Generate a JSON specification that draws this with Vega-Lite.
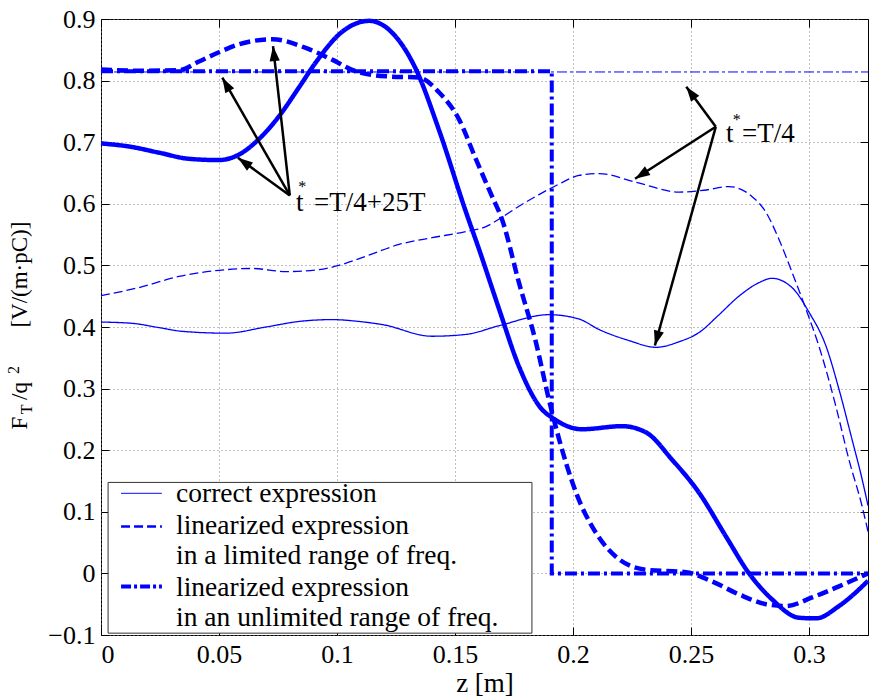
{
  "$schema": "https://vega.github.io/schema/vega-lite/v6.json",
  "width": 767,
  "height": 616,
  "autosize": {"type": "none"},
  "padding": {"left": 101, "top": 19, "right": 3, "bottom": 65},
  "background": "white",
  "config": {
    "view": {"stroke": "black", "strokeWidth": 1},
    "font": "Liberation Serif",
    "axis": {
      "labelFont": "Liberation Serif", "labelFontSize": 26, "labelColor": "black",
      "tickColor": "black", "tickSize": -8, "tickWidth": 1, "domain": false,
      "gridColor": "#808080", "gridDash": [1, 3], "gridWidth": 1, "gridOpacity": 1,
      "titleFont": "Liberation Serif", "titleFontSize": 27, "titleFontWeight": "normal", "titleColor": "black"
    }
  },
  "resolve": {"axis": {"x": "independent", "y": "independent"}},
  "datasets": {
    "curves": [
      {"s": "correct, T/4+25T", "z": 0, "v": 0.698},
      {"s": "correct, T/4+25T", "z": 0.0119, "v": 0.693},
      {"s": "correct, T/4+25T", "z": 0.0246, "v": 0.683},
      {"s": "correct, T/4+25T", "z": 0.0373, "v": 0.673},
      {"s": "correct, T/4+25T", "z": 0.05, "v": 0.671},
      {"s": "correct, T/4+25T", "z": 0.0585, "v": 0.68},
      {"s": "correct, T/4+25T", "z": 0.0669, "v": 0.705},
      {"s": "correct, T/4+25T", "z": 0.0754, "v": 0.742},
      {"s": "correct, T/4+25T", "z": 0.0839, "v": 0.789},
      {"s": "correct, T/4+25T", "z": 0.0911, "v": 0.83},
      {"s": "correct, T/4+25T", "z": 0.1021, "v": 0.879},
      {"s": "correct, T/4+25T", "z": 0.1136, "v": 0.897},
      {"s": "correct, T/4+25T", "z": 0.1233, "v": 0.878},
      {"s": "correct, T/4+25T", "z": 0.1335, "v": 0.818},
      {"s": "correct, T/4+25T", "z": 0.1432, "v": 0.72},
      {"s": "correct, T/4+25T", "z": 0.1547, "v": 0.586},
      {"s": "correct, T/4+25T", "z": 0.1602, "v": 0.526},
      {"s": "correct, T/4+25T", "z": 0.1686, "v": 0.43},
      {"s": "correct, T/4+25T", "z": 0.1771, "v": 0.336},
      {"s": "correct, T/4+25T", "z": 0.1869, "v": 0.266},
      {"s": "correct, T/4+25T", "z": 0.1911, "v": 0.253},
      {"s": "correct, T/4+25T", "z": 0.2038, "v": 0.234},
      {"s": "correct, T/4+25T", "z": 0.2208, "v": 0.239},
      {"s": "correct, T/4+25T", "z": 0.2309, "v": 0.229},
      {"s": "correct, T/4+25T", "z": 0.2419, "v": 0.185},
      {"s": "correct, T/4+25T", "z": 0.2534, "v": 0.131},
      {"s": "correct, T/4+25T", "z": 0.2648, "v": 0.06},
      {"s": "correct, T/4+25T", "z": 0.2746, "v": 0.0},
      {"s": "correct, T/4+25T", "z": 0.2843, "v": -0.042},
      {"s": "correct, T/4+25T", "z": 0.2958, "v": -0.072},
      {"s": "correct, T/4+25T", "z": 0.303, "v": -0.073},
      {"s": "correct, T/4+25T", "z": 0.3127, "v": -0.053},
      {"s": "correct, T/4+25T", "z": 0.3242, "v": -0.015},
      {"s": "correct, T/4+25T", "z": 0.325, "v": -0.012},
      {"s": "limited, T/4+25T", "z": 0, "v": 0.818},
      {"s": "limited, T/4+25T", "z": 0.016, "v": 0.816},
      {"s": "limited, T/4+25T", "z": 0.033, "v": 0.817},
      {"s": "limited, T/4+25T", "z": 0.0415, "v": 0.831},
      {"s": "limited, T/4+25T", "z": 0.05, "v": 0.846},
      {"s": "limited, T/4+25T", "z": 0.0585, "v": 0.859},
      {"s": "limited, T/4+25T", "z": 0.0725, "v": 0.867},
      {"s": "limited, T/4+25T", "z": 0.0881, "v": 0.851},
      {"s": "limited, T/4+25T", "z": 0.0979, "v": 0.834},
      {"s": "limited, T/4+25T", "z": 0.108, "v": 0.815},
      {"s": "limited, T/4+25T", "z": 0.1208, "v": 0.807},
      {"s": "limited, T/4+25T", "z": 0.1347, "v": 0.805},
      {"s": "limited, T/4+25T", "z": 0.1432, "v": 0.781},
      {"s": "limited, T/4+25T", "z": 0.1517, "v": 0.737},
      {"s": "limited, T/4+25T", "z": 0.1589, "v": 0.672},
      {"s": "limited, T/4+25T", "z": 0.1657, "v": 0.612},
      {"s": "limited, T/4+25T", "z": 0.1699, "v": 0.575},
      {"s": "limited, T/4+25T", "z": 0.1771, "v": 0.472},
      {"s": "limited, T/4+25T", "z": 0.1843, "v": 0.375},
      {"s": "limited, T/4+25T", "z": 0.1898, "v": 0.282},
      {"s": "limited, T/4+25T", "z": 0.1941, "v": 0.218},
      {"s": "limited, T/4+25T", "z": 0.2013, "v": 0.131},
      {"s": "limited, T/4+25T", "z": 0.2097, "v": 0.066},
      {"s": "limited, T/4+25T", "z": 0.2195, "v": 0.023},
      {"s": "limited, T/4+25T", "z": 0.2309, "v": 0.006},
      {"s": "limited, T/4+25T", "z": 0.2479, "v": 0.002},
      {"s": "limited, T/4+25T", "z": 0.2589, "v": -0.013},
      {"s": "limited, T/4+25T", "z": 0.2703, "v": -0.034},
      {"s": "limited, T/4+25T", "z": 0.2818, "v": -0.05},
      {"s": "limited, T/4+25T", "z": 0.2903, "v": -0.053},
      {"s": "limited, T/4+25T", "z": 0.3013, "v": -0.039},
      {"s": "limited, T/4+25T", "z": 0.3127, "v": -0.021},
      {"s": "limited, T/4+25T", "z": 0.325, "v": 0.0},
      {"s": "correct, T/4", "z": 0, "v": 0.408},
      {"s": "correct, T/4", "z": 0.0131, "v": 0.406},
      {"s": "correct, T/4", "z": 0.0246, "v": 0.399},
      {"s": "correct, T/4", "z": 0.0343, "v": 0.393},
      {"s": "correct, T/4", "z": 0.053, "v": 0.39},
      {"s": "correct, T/4", "z": 0.0699, "v": 0.4},
      {"s": "correct, T/4", "z": 0.0839, "v": 0.409},
      {"s": "correct, T/4", "z": 0.0979, "v": 0.412},
      {"s": "correct, T/4", "z": 0.1093, "v": 0.409},
      {"s": "correct, T/4", "z": 0.1191, "v": 0.404},
      {"s": "correct, T/4", "z": 0.1403, "v": 0.385},
      {"s": "correct, T/4", "z": 0.1547, "v": 0.388},
      {"s": "correct, T/4", "z": 0.1686, "v": 0.402},
      {"s": "correct, T/4", "z": 0.1898, "v": 0.42},
      {"s": "correct, T/4", "z": 0.2025, "v": 0.413},
      {"s": "correct, T/4", "z": 0.211, "v": 0.396},
      {"s": "correct, T/4", "z": 0.2237, "v": 0.378},
      {"s": "correct, T/4", "z": 0.2352, "v": 0.367},
      {"s": "correct, T/4", "z": 0.2449, "v": 0.376},
      {"s": "correct, T/4", "z": 0.2534, "v": 0.391},
      {"s": "correct, T/4", "z": 0.2619, "v": 0.42},
      {"s": "correct, T/4", "z": 0.2703, "v": 0.45},
      {"s": "correct, T/4", "z": 0.2788, "v": 0.472},
      {"s": "correct, T/4", "z": 0.2843, "v": 0.479},
      {"s": "correct, T/4", "z": 0.2928, "v": 0.464},
      {"s": "correct, T/4", "z": 0.3, "v": 0.424},
      {"s": "correct, T/4", "z": 0.3072, "v": 0.369},
      {"s": "correct, T/4", "z": 0.3127, "v": 0.299},
      {"s": "correct, T/4", "z": 0.3182, "v": 0.218},
      {"s": "correct, T/4", "z": 0.3225, "v": 0.153},
      {"s": "correct, T/4", "z": 0.325, "v": 0.11},
      {"s": "limited, T/4", "z": 0, "v": 0.451},
      {"s": "limited, T/4", "z": 0.0161, "v": 0.464},
      {"s": "limited, T/4", "z": 0.033, "v": 0.482},
      {"s": "limited, T/4", "z": 0.05, "v": 0.492},
      {"s": "limited, T/4", "z": 0.064, "v": 0.495},
      {"s": "limited, T/4", "z": 0.0784, "v": 0.49},
      {"s": "limited, T/4", "z": 0.0924, "v": 0.493},
      {"s": "limited, T/4", "z": 0.1008, "v": 0.5},
      {"s": "limited, T/4", "z": 0.1123, "v": 0.515},
      {"s": "limited, T/4", "z": 0.1263, "v": 0.534},
      {"s": "limited, T/4", "z": 0.1403, "v": 0.545},
      {"s": "limited, T/4", "z": 0.1547, "v": 0.555},
      {"s": "limited, T/4", "z": 0.1631, "v": 0.563},
      {"s": "limited, T/4", "z": 0.1686, "v": 0.575},
      {"s": "limited, T/4", "z": 0.1771, "v": 0.596},
      {"s": "limited, T/4", "z": 0.1856, "v": 0.615},
      {"s": "limited, T/4", "z": 0.1941, "v": 0.632},
      {"s": "limited, T/4", "z": 0.2025, "v": 0.646},
      {"s": "limited, T/4", "z": 0.211, "v": 0.649},
      {"s": "limited, T/4", "z": 0.2267, "v": 0.635},
      {"s": "limited, T/4", "z": 0.2449, "v": 0.619},
      {"s": "limited, T/4", "z": 0.2555, "v": 0.622},
      {"s": "limited, T/4", "z": 0.2661, "v": 0.628},
      {"s": "limited, T/4", "z": 0.2758, "v": 0.612},
      {"s": "limited, T/4", "z": 0.2818, "v": 0.586},
      {"s": "limited, T/4", "z": 0.2873, "v": 0.542},
      {"s": "limited, T/4", "z": 0.2928, "v": 0.489},
      {"s": "limited, T/4", "z": 0.2987, "v": 0.429},
      {"s": "limited, T/4", "z": 0.3042, "v": 0.369},
      {"s": "limited, T/4", "z": 0.3114, "v": 0.271},
      {"s": "limited, T/4", "z": 0.3169, "v": 0.185},
      {"s": "limited, T/4", "z": 0.3225, "v": 0.109},
      {"s": "limited, T/4", "z": 0.325, "v": 0.068}
    ],
    "steps": [
      {"s": "unlimited, T/4+25T", "z": 0, "v": 0.815},
      {"s": "unlimited, T/4+25T", "z": 0.191, "v": 0.815},
      {"s": "unlimited, T/4+25T", "z": 0.191, "v": 0.0},
      {"s": "unlimited, T/4+25T", "z": 0.325, "v": 0.0},
      {"s": "unlimited, T/4", "z": 0, "v": 0.814},
      {"s": "unlimited, T/4", "z": 0.325, "v": 0.814}
    ],
    "arrows": [
      {"x1": 0.08, "y1": 0.6136, "x2": 0.0514, "y2": 0.8047},
      {"x1": 0.08, "y1": 0.6136, "x2": 0.0729, "y2": 0.856},
      {"x1": 0.08, "y1": 0.6136, "x2": 0.058, "y2": 0.6748},
      {"x1": 0.2605, "y1": 0.725, "x2": 0.248, "y2": 0.79},
      {"x1": 0.2605, "y1": 0.725, "x2": 0.2263, "y2": 0.6407},
      {"x1": 0.2605, "y1": 0.725, "x2": 0.2347, "y2": 0.37}
    ],
    "labels": [
      {"k": "main", "z": 0.0826, "v": 0.5877, "t": "t"},
      {"k": "main", "z": 0.0903, "v": 0.5877, "t": "=T/4+25T"},
      {"k": "main", "z": 0.2648, "v": 0.6997, "t": "t"},
      {"k": "main", "z": 0.2716, "v": 0.6997, "t": "=T/4"},
      {"k": "star", "z": 0.0853, "v": 0.6185, "t": "*"},
      {"k": "star", "z": 0.2694, "v": 0.7275, "t": "*"},
      {"k": "legend", "z": 0.0318, "v": 0.1153, "t": "correct expression"},
      {"k": "legend", "z": 0.0318, "v": 0.0633, "t": "linearized expression"},
      {"k": "legend", "z": 0.0318, "v": 0.0146, "t": "in a limited range of freq."},
      {"k": "legend", "z": 0.0318, "v": -0.0373, "t": "linearized expression"},
      {"k": "legend", "z": 0.0318, "v": -0.086, "t": "in an unlimited range of freq."},
      {"k": "ytitle", "z": -0.03136, "v": 0.2338, "t": "F"},
      {"k": "ytitle", "z": -0.03136, "v": 0.2815, "t": "/q"},
      {"k": "ytitle", "z": -0.03136, "v": 0.399, "t": "[V/(m·pC)]"},
      {"k": "ysmall", "z": -0.02924, "v": 0.2585, "t": "T"},
      {"k": "ysmall", "z": -0.0347, "v": 0.3235, "t": "2"}
    ],
    "legendBox": [
      {"z": 0.003, "z2": 0.1826, "v": 0.1477, "v2": -0.097}
    ],
    "legendLines": [
      {"s": "correct, T/4", "z": 0.0085, "v": 0.13},
      {"s": "correct, T/4", "z": 0.0258, "v": 0.13},
      {"s": "limited, T/4", "z": 0.0085, "v": 0.0763},
      {"s": "limited, T/4", "z": 0.0258, "v": 0.0763},
      {"s": "unlimited, T/4", "z": 0.0085, "v": -0.0211},
      {"s": "unlimited, T/4", "z": 0.0258, "v": -0.0211}
    ]
  },
  "layer": [
    {
      "data": {"name": "curves"},
      "mark": {"type": "line", "interpolate": "monotone", "color": "#0000ff"},
      "encoding": {
        "x": {"field": "z", "type": "quantitative",
              "scale": {"domain": [0, 0.325], "nice": false, "zero": false},
              "axis": {"orient": "bottom", "grid": true, "values": [0, 0.05, 0.1, 0.15, 0.2, 0.25, 0.3], "format": "~g", "title": "z [m]",
                       "labelPadding": 14, "titleBaseline": "alphabetic", "titleY": 56}},
        "y": {"field": "v", "type": "quantitative",
              "scale": {"domain": [-0.1, 0.9], "nice": false, "zero": false},
              "axis": {"orient": "left", "grid": true, "values": [-0.1, 0, 0.1, 0.2, 0.3, 0.4, 0.5, 0.6, 0.7, 0.8, 0.9], "format": "~g", "title": null,
                       "labelPadding": 14}},
        "strokeDash": {"field": "s", "type": "nominal", "legend": null,
          "scale": {"domain": ["correct, T/4+25T", "limited, T/4+25T", "unlimited, T/4+25T", "correct, T/4", "limited, T/4", "unlimited, T/4"],
                    "range": [[1, 0], [11, 5], [12, 4, 3, 4], [1, 0], [9, 4], [10, 3, 3, 3]]}},
        "strokeWidth": {"field": "s", "type": "nominal", "legend": null,
          "scale": {"type": "ordinal", "domain": ["correct, T/4+25T", "limited, T/4+25T", "unlimited, T/4+25T", "correct, T/4", "limited, T/4", "unlimited, T/4"],
                    "range": [4.5, 4.5, 5, 1.3, 1.3, 1.3]}}
      }
    },
    {
      "data": {"name": "steps"},
      "mark": {"type": "line", "interpolate": "linear", "color": "#0000ff"},
      "encoding": {
        "x": {"field": "z", "type": "quantitative",
              "axis": {"orient": "top", "values": [0, 0.05, 0.1, 0.15, 0.2, 0.25, 0.3], "labels": false, "grid": false, "title": null}},
        "y": {"field": "v", "type": "quantitative",
              "axis": {"orient": "right", "values": [-0.1, 0, 0.1, 0.2, 0.3, 0.4, 0.5, 0.6, 0.7, 0.8, 0.9], "labels": false, "grid": false, "title": null}},
        "order": {"value": null},
        "strokeDash": {"field": "s", "type": "nominal", "legend": null},
        "strokeWidth": {"field": "s", "type": "nominal", "legend": null}
      }
    },
    {
      "data": {"name": "arrows"},
      "mark": {"type": "rule", "color": "black", "strokeWidth": 2.5},
      "encoding": {
        "x": {"field": "x1", "type": "quantitative", "axis": null},
        "y": {"field": "y1", "type": "quantitative", "axis": null},
        "x2": {"field": "x2"},
        "y2": {"field": "y2"}
      }
    },
    {
      "data": {"name": "arrows"},
      "transform": [
        {"calculate": "atan2((datum.x2 - datum.x1) * 2360, (datum.y2 - datum.y1) * 616) * 180 / PI", "as": "ang"}
      ],
      "mark": {"type": "point", "shape": "M0,0L-0.34,1L0.34,1Z", "filled": true, "color": "black", "opacity": 1, "size": 900, "strokeWidth": 0},
      "encoding": {
        "x": {"field": "x2", "type": "quantitative", "axis": null},
        "y": {"field": "y2", "type": "quantitative", "axis": null},
        "angle": {"field": "ang", "type": "quantitative", "scale": null}
      }
    },
    {
      "data": {"name": "legendBox"},
      "mark": {"type": "rect", "fill": "white", "stroke": "#333333", "strokeWidth": 1},
      "encoding": {
        "x": {"field": "z", "type": "quantitative", "axis": null},
        "x2": {"field": "z2"},
        "y": {"field": "v", "type": "quantitative", "axis": null},
        "y2": {"field": "v2"}
      }
    },
    {
      "data": {"name": "legendLines"},
      "mark": {"type": "line", "color": "#0000ff"},
      "encoding": {
        "x": {"field": "z", "type": "quantitative", "axis": null},
        "y": {"field": "v", "type": "quantitative", "axis": null},
        "strokeDash": {"field": "s", "type": "nominal", "legend": null},
        "strokeWidth": {"field": "s", "type": "nominal", "legend": null}
      }
    },
    {
      "data": {"name": "labels"},
      "transform": [{"filter": "datum.k === 'main'"}],
      "mark": {"type": "text", "align": "left", "baseline": "alphabetic", "font": "Liberation Serif", "fontSize": 27, "color": "black"},
      "encoding": {
        "x": {"field": "z", "type": "quantitative", "axis": null},
        "y": {"field": "v", "type": "quantitative", "axis": null},
        "text": {"field": "t"}
      }
    },
    {
      "data": {"name": "labels"},
      "transform": [{"filter": "datum.k === 'legend'"}],
      "mark": {"type": "text", "align": "left", "baseline": "alphabetic", "font": "Liberation Serif", "fontSize": 27.5, "color": "black"},
      "encoding": {
        "x": {"field": "z", "type": "quantitative", "axis": null},
        "y": {"field": "v", "type": "quantitative", "axis": null},
        "text": {"field": "t"}
      }
    },
    {
      "data": {"name": "labels"},
      "transform": [{"filter": "datum.k === 'star'"}],
      "mark": {"type": "text", "align": "center", "baseline": "alphabetic", "font": "Liberation Serif", "fontSize": 16, "color": "black"},
      "encoding": {
        "x": {"field": "z", "type": "quantitative", "axis": null},
        "y": {"field": "v", "type": "quantitative", "axis": null},
        "text": {"field": "t"}
      }
    },
    {
      "data": {"name": "labels"},
      "transform": [{"filter": "datum.k === 'ytitle'"}],
      "mark": {"type": "text", "align": "left", "baseline": "alphabetic", "angle": 270, "font": "Liberation Serif", "fontSize": 23, "color": "black"},
      "encoding": {
        "x": {"field": "z", "type": "quantitative", "axis": null},
        "y": {"field": "v", "type": "quantitative", "axis": null},
        "text": {"field": "t"}
      }
    },
    {
      "data": {"name": "labels"},
      "transform": [{"filter": "datum.k === 'ysmall'"}],
      "mark": {"type": "text", "align": "left", "baseline": "alphabetic", "angle": 270, "font": "Liberation Serif", "fontSize": 16, "color": "black"},
      "encoding": {
        "x": {"field": "z", "type": "quantitative", "axis": null},
        "y": {"field": "v", "type": "quantitative", "axis": null},
        "text": {"field": "t"}
      }
    }
  ]
}
